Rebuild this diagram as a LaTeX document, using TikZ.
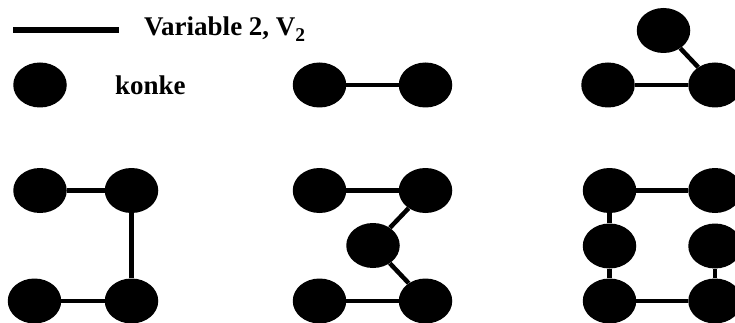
\documentclass[tikz,border=0pt]{standalone}
\usepackage{fontspec}
\setmainfont{Liberation Serif}
\usetikzlibrary{shapes.geometric}
\begin{document}
\begin{tikzpicture}[x=1pt,y=-1pt,
  konke/.style={ellipse,fill=black,draw=none,minimum width=53.5pt,minimum height=45pt,inner sep=0pt},
  link/.style={line width=4.5pt},
  legendline/.style={line width=5.2pt},
  lbl/.style={anchor=base west,inner sep=0pt,font=\bfseries\fontsize{27}{30}\selectfont}]
\useasboundingbox (0,0) rectangle (735,323);
\clip (0,0) rectangle (735,323);
% legend
\coordinate (l1) at (13,30);
\coordinate (l2) at (119,30);
\draw[legendline] (l1) -- (l2);
\node[lbl] (t1) at (144,35.5) {Variable 2, V\raisebox{-6.5pt}{\fontsize{19.5}{19.5}\selectfont 2}};
\node[konke] (k0) at (40,85) {};
\node[lbl] (t2) at (115,95) {konke};
% top middle
\node[konke] (a1) at (319.5,85) {};
\node[konke] (a2) at (425.5,85) {};
\draw[link] (a1) -- (a2);
% top right
\node[konke] (b1) at (608,85) {};
\node[konke] (b2) at (715,85) {};
\node[konke] (b3) at (663.5,30.5) {};
\draw[link] (b1) -- (b2);
\draw[link] (b3) -- (b2);
% bottom left
\node[konke] (c1) at (40,190.5) {};
\node[konke] (c2) at (131.5,190.5) {};
\node[konke] (c3) at (34.5,301) {};
\node[konke] (c4) at (131.5,301) {};
\draw[link] (c1) -- (c2);
\draw[link] (c2) -- (c4);
\draw[link] (c3) -- (c4);
% bottom middle
\node[konke] (d1) at (319.5,190.5) {};
\node[konke] (d2) at (425.5,190.5) {};
\node[konke] (d3) at (373,245.5) {};
\node[konke] (d4) at (319.5,301) {};
\node[konke] (d5) at (425.5,301) {};
\draw[link] (d1) -- (d2);
\draw[link] (d2) -- (d3);
\draw[link] (d3) -- (d5);
\draw[link] (d4) -- (d5);
% bottom right
\node[konke] (e1) at (609.5,190.5) {};
\node[konke] (e2) at (715,190.5) {};
\node[konke] (e3) at (609.5,246) {};
\node[konke] (e4) at (715,246) {};
\node[konke] (e5) at (609.5,301) {};
\node[konke] (e6) at (715,301) {};
\draw[link] (e1) -- (e2);
\draw[link] (e1) -- (e3);
\draw[link] (e3) -- (e5);
\draw[link] (e4) -- (e6);
\draw[link] (e5) -- (e6);
\end{tikzpicture}
\end{document}
